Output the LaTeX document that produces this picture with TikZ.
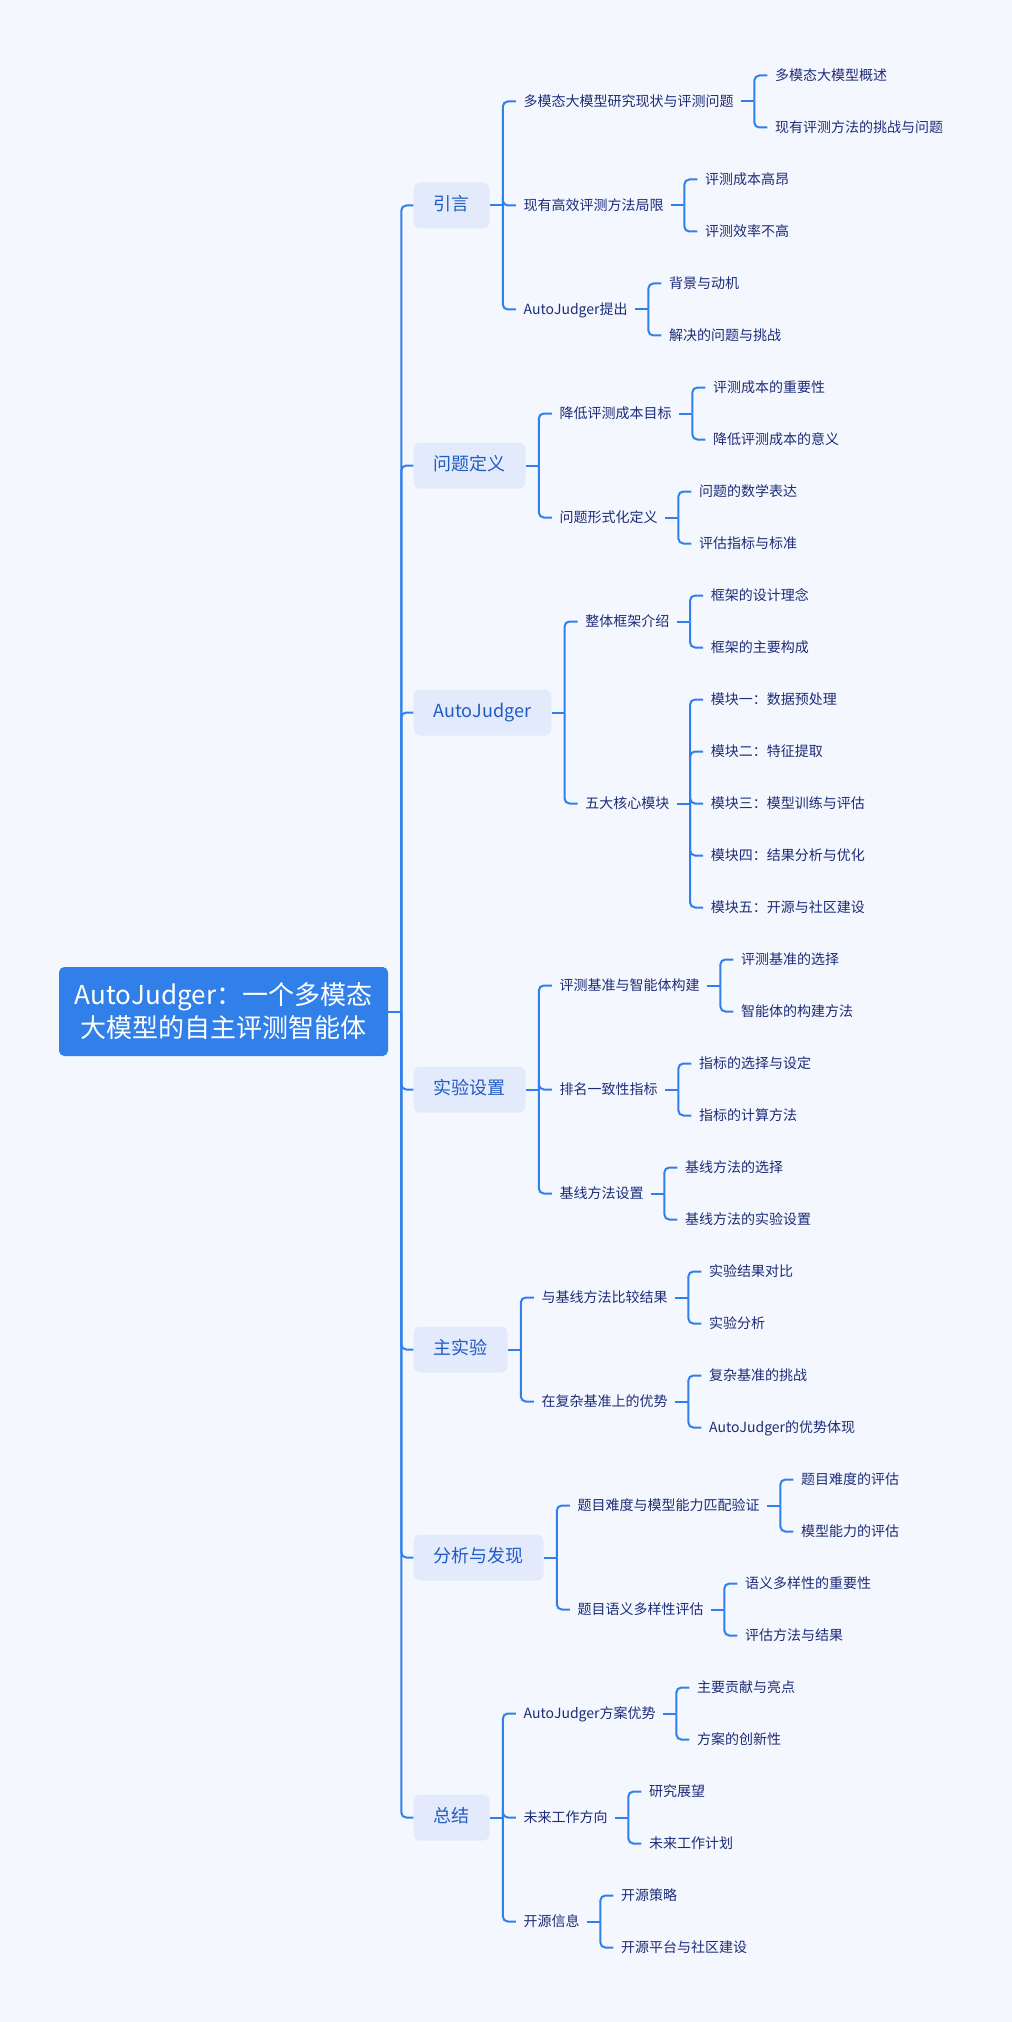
\documentclass[tikz,border=0pt]{standalone}
\usepackage{fontspec}
\setmainfont{Noto Sans CJK SC}
\usepackage{tikz}
\usetikzlibrary{positioning}
\usepackage{xcolor}
\definecolor{mmbg}{RGB}{245,247,254}
\definecolor{mmblue}{RGB}{49,128,234}
\definecolor{mmline}{RGB}{47,128,237}
\definecolor{mmtopic}{RGB}{226,234,252}
\definecolor{mmtopictext}{RGB}{33,92,196}
\definecolor{mmtext}{RGB}{28,44,120}
\tikzstyle{rootbox} = [rectangle, rounded corners=4pt, fill=mmblue, text=white, font=\fontsize{19.5}{24.75}\selectfont, align=center, minimum width=246.75pt, minimum height=66.75pt]
\tikzstyle{topic} = [rectangle, rounded corners=5pt, fill=mmtopic, text=mmtopictext, font=\fontsize{13.5}{16}\selectfont, inner xsep=15pt, minimum height=34.5pt, text height=0.8em, text depth=0.12em]
\tikzstyle{sub} = [inner xsep=5.625pt, inner ysep=2pt, text=mmtext, font=\fontsize{10.5}{12}\selectfont, text height=0.8em, text depth=0.12em]
\tikzstyle{branch} = [line width=1.5pt, color=mmline, rounded corners=3.75pt]

\begin{document}
\begin{tikzpicture}[x=0.75pt,y=-0.75pt]
\fill[mmbg] (0,0) rectangle (1012,2022);
\useasboundingbox (0,0) rectangle (1012,2022);

% Root
\node (root) [rootbox] at (223.5,1011.5) {AutoJudger：一个多模态\\大模型的自主评测智能体};

% Topics
\node (t1) [topic, right=18.75pt of root, yshift=604.5pt] {引言};
\node (t2) [topic, right=18.75pt of root, yshift=409.5pt] {问题定义};
\node (t3) [topic, right=18.75pt of root, yshift=224.25pt] {AutoJudger};
\node (t4) [topic, right=18.75pt of root, yshift=-58.5pt] {实验设置};
\node (t5) [topic, right=18.75pt of root, yshift=-253.5pt] {主实验};
\node (t6) [topic, right=18.75pt of root, yshift=-409.5pt] {分析与发现};
\node (t7) [topic, right=18.75pt of root, yshift=-604.5pt] {总结};

% Intro
\node (t1a) [sub, right=19.5pt of t1, yshift=78pt] {多模态大模型研究现状与评测问题};
\node (t1b) [sub, right=19.5pt of t1] {现有高效评测方法局限};
\node (t1c) [sub, right=19.5pt of t1, yshift=-78pt] {AutoJudger提出};
\node (t1a1) [sub, right=19.5pt of t1a, yshift=19.5pt] {多模态大模型概述};
\node (t1a2) [sub, right=19.5pt of t1a, yshift=-19.5pt] {现有评测方法的挑战与问题};
\node (t1b1) [sub, right=19.5pt of t1b, yshift=19.5pt] {评测成本高昂};
\node (t1b2) [sub, right=19.5pt of t1b, yshift=-19.5pt] {评测效率不高};
\node (t1c1) [sub, right=19.5pt of t1c, yshift=19.5pt] {背景与动机};
\node (t1c2) [sub, right=19.5pt of t1c, yshift=-19.5pt] {解决的问题与挑战};

% Problem definition
\node (t2a) [sub, right=19.5pt of t2, yshift=39pt] {降低评测成本目标};
\node (t2b) [sub, right=19.5pt of t2, yshift=-39pt] {问题形式化定义};
\node (t2a1) [sub, right=19.5pt of t2a, yshift=19.5pt] {评测成本的重要性};
\node (t2a2) [sub, right=19.5pt of t2a, yshift=-19.5pt] {降低评测成本的意义};
\node (t2b1) [sub, right=19.5pt of t2b, yshift=19.5pt] {问题的数学表达};
\node (t2b2) [sub, right=19.5pt of t2b, yshift=-19.5pt] {评估指标与标准};

% Framework
\node (t3a) [sub, right=19.5pt of t3, yshift=68.25pt] {整体框架介绍};
\node (t3b) [sub, right=19.5pt of t3, yshift=-68.25pt] {五大核心模块};
\node (t3a1) [sub, right=19.5pt of t3a, yshift=19.5pt] {框架的设计理念};
\node (t3a2) [sub, right=19.5pt of t3a, yshift=-19.5pt] {框架的主要构成};
\node (t3b1) [sub, right=19.5pt of t3b, yshift=78pt] {模块一：数据预处理};
\node (t3b2) [sub, right=19.5pt of t3b, yshift=39pt] {模块二：特征提取};
\node (t3b3) [sub, right=19.5pt of t3b] {模块三：模型训练与评估};
\node (t3b4) [sub, right=19.5pt of t3b, yshift=-39pt] {模块四：结果分析与优化};
\node (t3b5) [sub, right=19.5pt of t3b, yshift=-78pt] {模块五：开源与社区建设};

% Experimental setup
\node (t4a) [sub, right=19.5pt of t4, yshift=78pt] {评测基准与智能体构建};
\node (t4b) [sub, right=19.5pt of t4] {排名一致性指标};
\node (t4c) [sub, right=19.5pt of t4, yshift=-78pt] {基线方法设置};
\node (t4a1) [sub, right=19.5pt of t4a, yshift=19.5pt] {评测基准的选择};
\node (t4a2) [sub, right=19.5pt of t4a, yshift=-19.5pt] {智能体的构建方法};
\node (t4b1) [sub, right=19.5pt of t4b, yshift=19.5pt] {指标的选择与设定};
\node (t4b2) [sub, right=19.5pt of t4b, yshift=-19.5pt] {指标的计算方法};
\node (t4c1) [sub, right=19.5pt of t4c, yshift=19.5pt] {基线方法的选择};
\node (t4c2) [sub, right=19.5pt of t4c, yshift=-19.5pt] {基线方法的实验设置};

% Main experiment
\node (t5a) [sub, right=19.5pt of t5, yshift=39pt] {与基线方法比较结果};
\node (t5b) [sub, right=19.5pt of t5, yshift=-39pt] {在复杂基准上的优势};
\node (t5a1) [sub, right=19.5pt of t5a, yshift=19.5pt] {实验结果对比};
\node (t5a2) [sub, right=19.5pt of t5a, yshift=-19.5pt] {实验分析};
\node (t5b1) [sub, right=19.5pt of t5b, yshift=19.5pt] {复杂基准的挑战};
\node (t5b2) [sub, right=19.5pt of t5b, yshift=-19.5pt] {AutoJudger的优势体现};

% Analysis
\node (t6a) [sub, right=19.5pt of t6, yshift=39pt] {题目难度与模型能力匹配验证};
\node (t6b) [sub, right=19.5pt of t6, yshift=-39pt] {题目语义多样性评估};
\node (t6a1) [sub, right=19.5pt of t6a, yshift=19.5pt] {题目难度的评估};
\node (t6a2) [sub, right=19.5pt of t6a, yshift=-19.5pt] {模型能力的评估};
\node (t6b1) [sub, right=19.5pt of t6b, yshift=19.5pt] {语义多样性的重要性};
\node (t6b2) [sub, right=19.5pt of t6b, yshift=-19.5pt] {评估方法与结果};

% Summary
\node (t7a) [sub, right=19.5pt of t7, yshift=78pt] {AutoJudger方案优势};
\node (t7b) [sub, right=19.5pt of t7] {未来工作方向};
\node (t7c) [sub, right=19.5pt of t7, yshift=-78pt] {开源信息};
\node (t7a1) [sub, right=19.5pt of t7a, yshift=19.5pt] {主要贡献与亮点};
\node (t7a2) [sub, right=19.5pt of t7a, yshift=-19.5pt] {方案的创新性};
\node (t7b1) [sub, right=19.5pt of t7b, yshift=19.5pt] {研究展望};
\node (t7b2) [sub, right=19.5pt of t7b, yshift=-19.5pt] {未来工作计划};
\node (t7c1) [sub, right=19.5pt of t7c, yshift=19.5pt] {开源策略};
\node (t7c2) [sub, right=19.5pt of t7c, yshift=-19.5pt] {开源平台与社区建设};

% Branches
\foreach \p/\kids in {root/{t1,t2,t3,t4,t5,t6,t7},
    t1/{t1a,t1b,t1c}, t1a/{t1a1,t1a2}, t1b/{t1b1,t1b2}, t1c/{t1c1,t1c2},
    t2/{t2a,t2b}, t2a/{t2a1,t2a2}, t2b/{t2b1,t2b2},
    t3/{t3a,t3b}, t3a/{t3a1,t3a2}, t3b/{t3b1,t3b2,t3b3,t3b4,t3b5},
    t4/{t4a,t4b,t4c}, t4a/{t4a1,t4a2}, t4b/{t4b1,t4b2}, t4c/{t4c1,t4c2},
    t5/{t5a,t5b}, t5a/{t5a1,t5a2}, t5b/{t5b1,t5b2},
    t6/{t6a,t6b}, t6a/{t6a1,t6a2}, t6b/{t6b1,t6b2},
    t7/{t7a,t7b,t7c}, t7a/{t7a1,t7a2}, t7b/{t7b1,t7b2}, t7c/{t7c1,t7c2}} {
  \coordinate (j\p) at ([xshift=9.75pt]\p.east);
  \draw[branch] (\p.east) -- (j\p);
  \foreach \c in \kids
    \draw[branch] (j\p) |- (\c.west);
}
\end{tikzpicture}
\end{document}
